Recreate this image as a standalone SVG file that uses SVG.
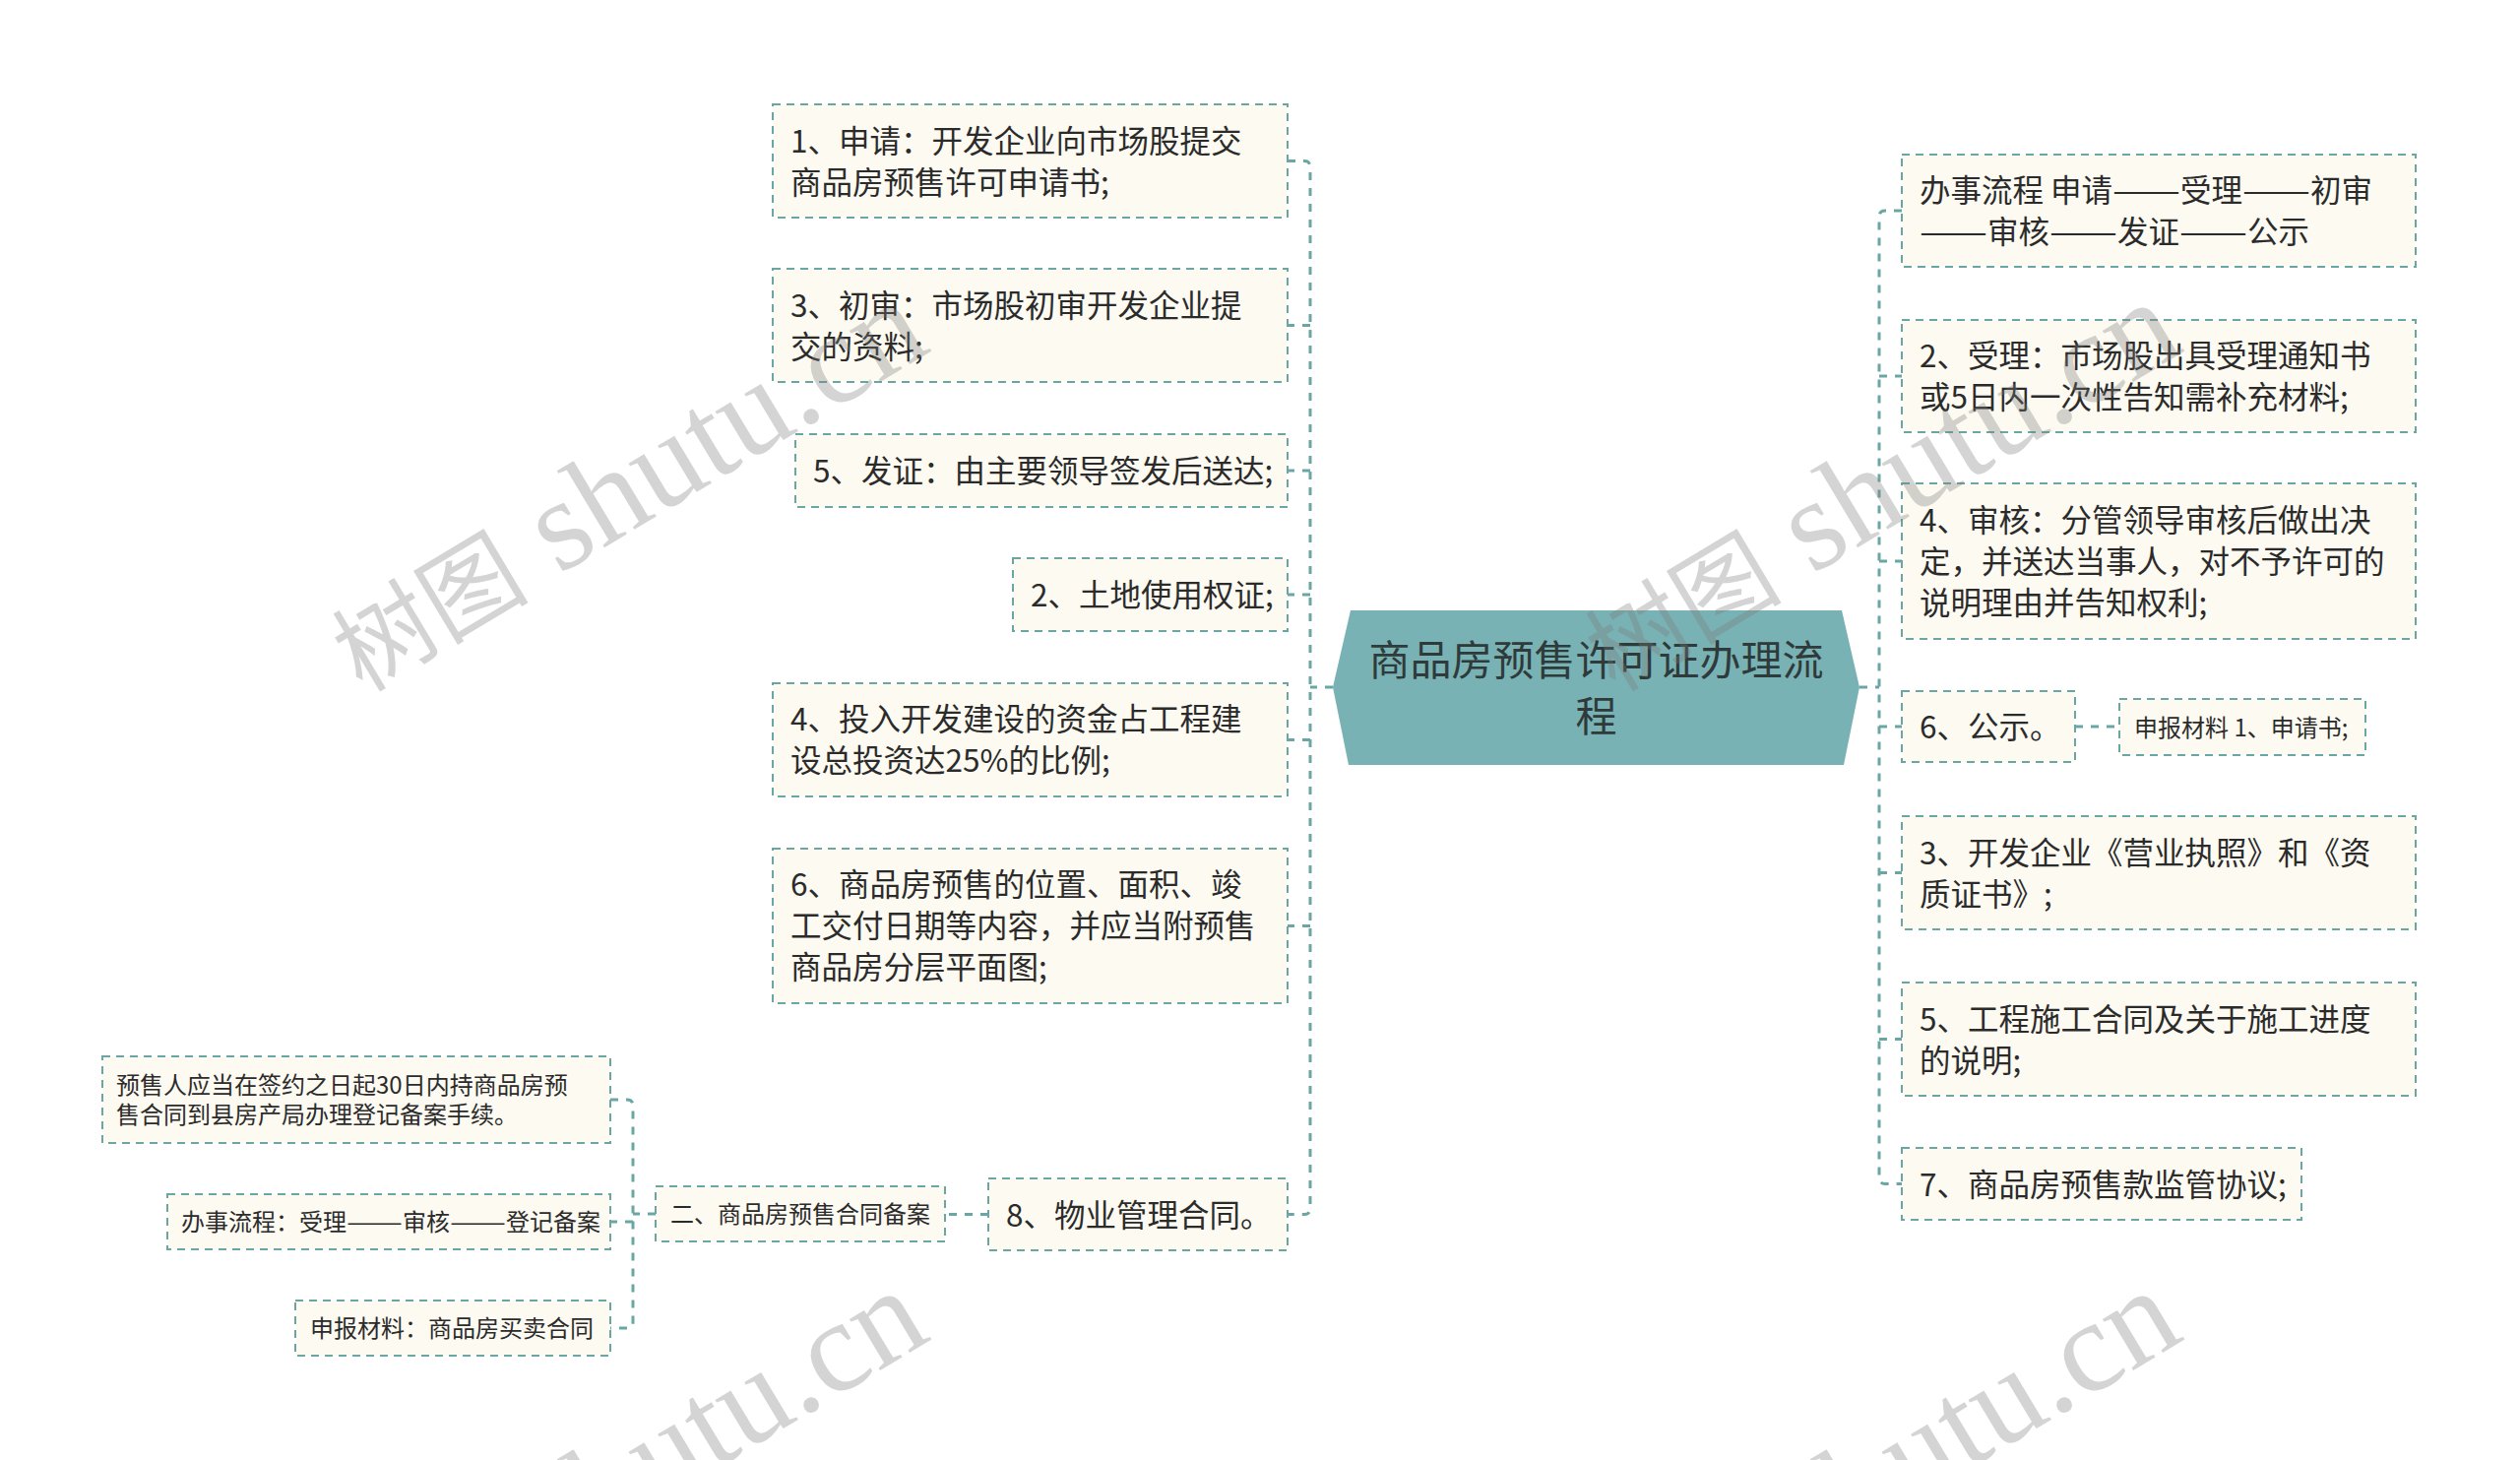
<svg xmlns="http://www.w3.org/2000/svg" width="2560" height="1483" viewBox="0 0 2560 1483">
<style>
.box{fill:#fcfaf1;stroke:#6aa7a4;stroke-width:2;stroke-dasharray:8 6}
.t{font-family:"Noto Sans CJK SC","Noto Sans",sans-serif;font-size:31.5px;fill:#2b2b2b}
.s{font-family:"Noto Sans CJK SC","Noto Sans",sans-serif;font-size:24px;fill:#2b2b2b}
.rt{font-family:"Noto Sans CJK SC","Noto Sans",sans-serif;font-size:42px;fill:#2f3a3a}
.c{fill:none;stroke:#6aa7a4;stroke-width:3;stroke-dasharray:8 8}
.wm{font-family:"Liberation Serif","Noto Sans CJK SC",serif;font-size:132px;fill:#7a7a7a;fill-opacity:0.32}
</style>
<rect width="2560" height="1483" fill="#ffffff"/>

<g id="connectors">
<path class="c" d="M1354,698 H1331"/>
<path class="c" d="M1308,163.5 H1325 Q1331,163.5 1331,170 V1227 Q1331,1233.5 1325,1233.5 H1308"/>
<path class="c" d="M1331,330.5 H1308"/>
<path class="c" d="M1331,478 H1308"/>
<path class="c" d="M1331,604 H1308"/>
<path class="c" d="M1331,751.5 H1308"/>
<path class="c" d="M1331,940.5 H1308"/>
<path class="c" d="M1889,698 H1909"/>
<path class="c" d="M1932,214 H1915 Q1909,214 1909,220 V1196 Q1909,1202.5 1915,1202.5 H1932"/>
<path class="c" d="M1909,382 H1932"/>
<path class="c" d="M1909,570 H1932"/>
<path class="c" d="M1909,738 H1932"/>
<path class="c" d="M1909,886.5 H1932"/>
<path class="c" d="M1909,1055.5 H1932"/>
<path class="c" d="M2108,738 H2153"/>
<path class="c" d="M1004,1233.5 H960"/>
<path class="c" d="M666,1233 H643"/>
<path class="c" d="M620,1117 H637 Q643,1117 643,1123 V1343 Q643,1349 637,1349 H620"/>
<path class="c" d="M643,1241 H620"/>
</g>

<g id="root">
<polygon points="1372,620 1871,620 1889,698 1873,777 1370,777 1354,698" fill="#79b2b4"/>
<text class="rt" x="1621.5" y="686" text-anchor="middle">商品房预售许可证办理流</text>
<text class="rt" x="1621.5" y="743" text-anchor="middle">程</text>
</g>

<g id="n1"><rect class="box" x="785" y="106" width="523" height="115"/>
<text class="t" x="803" y="154.5">1、申请：开发企业向市场股提交</text>
<text class="t" x="803" y="196.5">商品房预售许可申请书;</text></g>

<g id="n3"><rect class="box" x="785" y="273" width="523" height="115"/>
<text class="t" x="803" y="321.5">3、初审：市场股初审开发企业提</text>
<text class="t" x="803" y="363.5">交的资料;</text></g>

<g id="n5"><rect class="box" x="808" y="441" width="500" height="74"/>
<text class="t" x="826" y="490">5、发证：由主要领导签发后送达;</text></g>

<g id="n2"><rect class="box" x="1029" y="567" width="279" height="74"/>
<text class="t" x="1047" y="616">2、土地使用权证;</text></g>

<g id="n4"><rect class="box" x="785" y="694" width="523" height="115"/>
<text class="t" x="803" y="742">4、投入开发建设的资金占工程建</text>
<text class="t" x="803" y="784">设总投资达25%的比例;</text></g>

<g id="n6"><rect class="box" x="785" y="862" width="523" height="157"/>
<text class="t" x="803" y="910">6、商品房预售的位置、面积、竣</text>
<text class="t" x="803" y="952">工交付日期等内容，并应当附预售</text>
<text class="t" x="803" y="994">商品房分层平面图;</text></g>

<g id="n8"><rect class="box" x="1004" y="1197" width="304" height="73"/>
<text class="t" x="1022" y="1245.5">8、物业管理合同。</text></g>

<g id="b2"><rect class="box" x="666" y="1205" width="294" height="56"/>
<text class="s" x="681" y="1242">二、商品房预售合同备案</text></g>

<g id="b2a"><rect class="box" x="104" y="1073" width="516" height="88"/>
<text class="s" x="118" y="1111">预售人应当在签约之日起30日内持商品房预</text>
<text class="s" x="118" y="1141">售合同到县房产局办理登记备案手续。</text></g>

<g id="b2b"><rect class="box" x="170" y="1213" width="450" height="56"/>
<text class="s" x="184" y="1250">办事流程：受理<tspan textLength="57" lengthAdjust="spacingAndGlyphs">——</tspan>审核<tspan textLength="57" lengthAdjust="spacingAndGlyphs">——</tspan>登记备案</text></g>

<g id="b2c"><rect class="box" x="300" y="1321" width="320" height="56"/>
<text class="s" x="315" y="1358">申报材料：商品房买卖合同</text></g>

<g id="r1"><rect class="box" x="1932" y="157" width="522" height="114"/>
<text class="t" x="1950" y="205">办事流程 申请<tspan textLength="69" lengthAdjust="spacingAndGlyphs">——</tspan>受理<tspan textLength="69" lengthAdjust="spacingAndGlyphs">——</tspan>初审</text>
<text class="t" x="1950" y="247"><tspan textLength="69" lengthAdjust="spacingAndGlyphs">——</tspan>审核<tspan textLength="69" lengthAdjust="spacingAndGlyphs">——</tspan>发证<tspan textLength="69" lengthAdjust="spacingAndGlyphs">——</tspan>公示</text></g>

<g id="r2"><rect class="box" x="1932" y="325" width="522" height="114"/>
<text class="t" x="1950" y="373">2、受理：市场股出具受理通知书</text>
<text class="t" x="1950" y="415">或5日内一次性告知需补充材料;</text></g>

<g id="r4"><rect class="box" x="1932" y="491" width="522" height="158"/>
<text class="t" x="1950" y="540">4、审核：分管领导审核后做出决</text>
<text class="t" x="1950" y="582">定，并送达当事人，对不予许可的</text>
<text class="t" x="1950" y="624">说明理由并告知权利;</text></g>

<g id="r6"><rect class="box" x="1932" y="702" width="176" height="72"/>
<text class="t" x="1950" y="750">6、公示。</text></g>

<g id="r6a"><rect class="box" x="2153" y="710" width="250" height="57"/>
<text class="s" x="2168" y="747.5">申报材料 1、申请书;</text></g>

<g id="r3"><rect class="box" x="1932" y="829" width="522" height="115"/>
<text class="t" x="1950" y="877.5">3、开发企业《营业执照》和《资</text>
<text class="t" x="1950" y="919.5">质证书》;</text></g>

<g id="r5"><rect class="box" x="1932" y="998" width="522" height="115"/>
<text class="t" x="1950" y="1046.5">5、工程施工合同及关于施工进度</text>
<text class="t" x="1950" y="1088.5">的说明;</text></g>

<g id="r7"><rect class="box" x="1932" y="1166" width="406" height="73"/>
<text class="t" x="1950" y="1214.5">7、商品房预售款监管协议;</text></g>

<g id="watermarks">
<text class="wm" transform="translate(368,704) rotate(-31)"><tspan font-size="100">树图</tspan> shutu.cn</text>
<text class="wm" transform="translate(1641,704) rotate(-31)"><tspan font-size="100">树图</tspan> shutu.cn</text>
<text class="wm" transform="translate(368,1708) rotate(-31)"><tspan font-size="100">树图</tspan> shutu.cn</text>
<text class="wm" transform="translate(1641,1708) rotate(-31)"><tspan font-size="100">树图</tspan> shutu.cn</text>
</g>
</svg>
